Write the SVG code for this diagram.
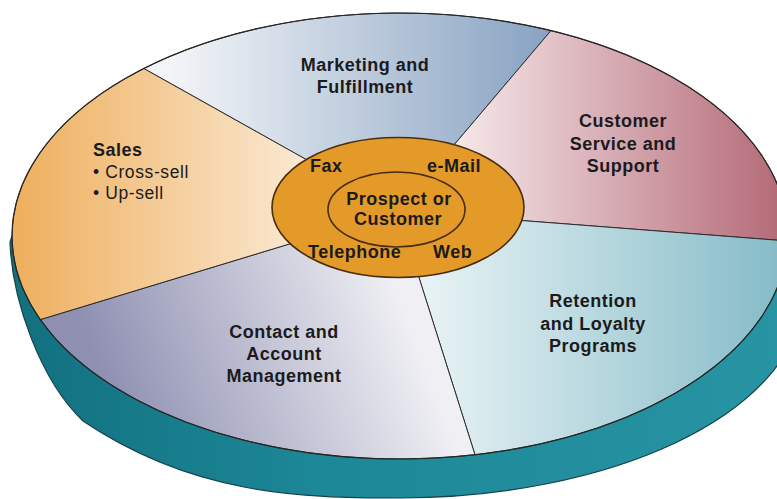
<svg xmlns="http://www.w3.org/2000/svg" width="777" height="499" viewBox="0 0 777 499">
<defs>
<linearGradient id="gSide" x1="0" y1="0" x2="777" y2="0" gradientUnits="userSpaceOnUse">
<stop offset="0" stop-color="#126f7e"/><stop offset="0.4" stop-color="#1c8797"/><stop offset="1" stop-color="#2794a3"/>
</linearGradient>
<linearGradient id="gMkt" x1="170" y1="0" x2="545" y2="0" gradientUnits="userSpaceOnUse">
<stop offset="0" stop-color="#f3f5f8"/><stop offset="1" stop-color="#8aa4c3"/>
</linearGradient>
<linearGradient id="gCss" x1="460" y1="0" x2="777" y2="0" gradientUnits="userSpaceOnUse">
<stop offset="0" stop-color="#f5e6e8"/><stop offset="1" stop-color="#b56c79"/>
</linearGradient>
<linearGradient id="gRet" x1="420" y1="0" x2="777" y2="0" gradientUnits="userSpaceOnUse">
<stop offset="0" stop-color="#e9f3f5"/><stop offset="1" stop-color="#86bcc8"/>
</linearGradient>
<linearGradient id="gCon" x1="110" y1="410" x2="400" y2="300" gradientUnits="userSpaceOnUse">
<stop offset="0" stop-color="#8e8fb1"/><stop offset="1" stop-color="#efeff4"/>
</linearGradient>
<linearGradient id="gSal" x1="20" y1="0" x2="300" y2="0" gradientUnits="userSpaceOnUse">
<stop offset="0" stop-color="#eeb05f"/><stop offset="1" stop-color="#fae8d1"/>
</linearGradient>
</defs>
<style>
.sec{stroke:#2e2e2e;stroke-width:1;stroke-linejoin:round}
.t{font-family:"Liberation Sans",Arial,sans-serif;font-weight:bold;font-size:18px;letter-spacing:0.5px;fill:#1c1a1c}
.m{text-anchor:middle}
.r{font-weight:normal;font-size:17.5px;letter-spacing:0.6px}
</style>
<rect width="777" height="499" fill="#ffffff"/>
<g id="disc-side">
<path d="M 12 236 L 10 242 C 12 300 40 380 83 421 C 193 495 300 498 400 498 C 600 498 800 420 805 290 L 805 236 Z" fill="url(#gSide)" stroke="#14434b" stroke-width="1.2"/>
</g>
<g id="marketing">
<path class="sec" d="M 398 211 L 143.8 68.5 A 388 223 0 0 1 551 30.6 Z" fill="url(#gMkt)"/>
<text class="t m" x="365" y="71">Marketing and</text>
<text class="t m" x="365" y="93">Fulfillment</text>
</g>
<g id="customer-service">
<path class="sec" d="M 398 211 L 551 30.6 A 388 223 0 0 1 787.9 241 Z" fill="url(#gCss)"/>
<text class="t m" x="623" y="127">Customer</text>
<text class="t m" x="623" y="150">Service and</text>
<text class="t m" x="623" y="172">Support</text>
</g>
<g id="retention">
<path class="sec" d="M 398 211 L 787.9 241 A 388 223 0 0 1 475 454.8 Z" fill="url(#gRet)"/>
<text class="t m" x="593" y="307">Retention</text>
<text class="t m" x="593" y="330">and Loyalty</text>
<text class="t m" x="593" y="352">Programs</text>
</g>
<g id="contact">
<path class="sec" d="M 398 211 L 475 454.8 A 388 223 0 0 1 40.3 319.6 Z" fill="url(#gCon)"/>
<text class="t m" x="284" y="338">Contact and</text>
<text class="t m" x="284" y="360">Account</text>
<text class="t m" x="284" y="382">Management</text>
</g>
<g id="sales">
<path class="sec" d="M 398 211 L 40.3 319.6 A 388 223 0 0 1 143.8 68.5 Z" fill="url(#gSal)"/>
<text class="t" x="93" y="156">Sales</text>
<text class="t r" x="93" y="178">• Cross-sell</text>
<text class="t r" x="93" y="199">• Up-sell</text>
</g>
<g id="face-rim">
<ellipse cx="400" cy="236" rx="388" ry="223" fill="none" stroke="#262626" stroke-width="1.2"/>
</g>
<g id="channels">
<ellipse cx="398" cy="207.5" rx="126" ry="70" fill="#e39a28" stroke="#4a2d0d" stroke-width="1.6"/>
<text class="t" x="310" y="172">Fax</text>
<text class="t" x="427" y="172">e-Mail</text>
<text class="t" x="308" y="258">Telephone</text>
<text class="t" x="433" y="258">Web</text>
</g>
<g id="prospect">
<ellipse cx="396.5" cy="209.5" rx="68.5" ry="37.5" fill="none" stroke="#4a2d0d" stroke-width="1.6"/>
<text class="t m" x="399" y="205">Prospect or</text>
<text class="t m" x="398" y="225">Customer</text>
</g>
<g id="connectors"></g>
</svg>
